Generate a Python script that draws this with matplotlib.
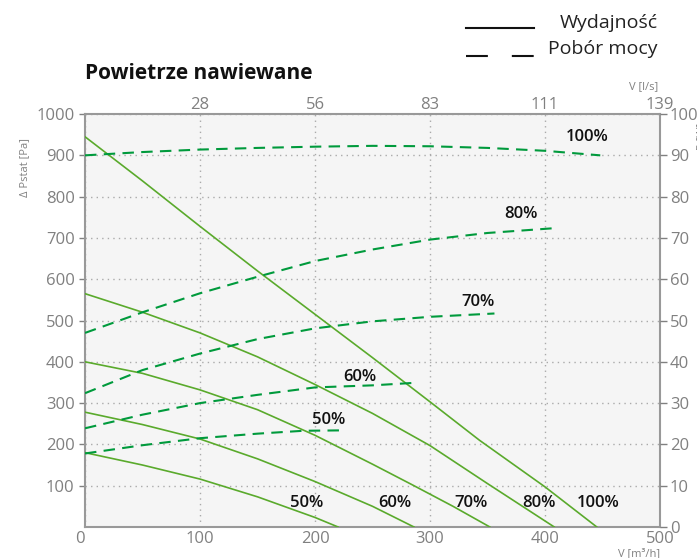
import matplotlib
matplotlib.use('Agg')
import matplotlib.pyplot as plt
from matplotlib.lines import Line2D

plt.rcParams['font.family'] = ['Open Sans', 'DejaVu Sans']

# airflow [m3/h] vs static pressure [Pa] (Wydajnosc)
flow_100 = [0, 50, 100, 150, 200, 250, 300, 343, 400, 445]
pres_100 = [945, 838, 728, 620, 515, 410, 303, 210, 97, 0]
flow_80 = [0, 50, 100, 150, 200, 250, 300, 350, 408]
pres_80 = [565, 520, 470, 412, 345, 275, 197, 105, 0]
flow_70 = [0, 50, 100, 150, 200, 250, 286, 320, 352]
pres_70 = [400, 372, 332, 284, 222, 152, 100, 50, 0]
flow_60 = [0, 50, 100, 150, 200, 250, 286]
pres_60 = [278, 248, 213, 165, 110, 50, 0]
flow_50 = [0, 50, 100, 150, 200, 220]
pres_50 = [180, 150, 116, 73, 23, 0]

# airflow [m3/h] vs power [W] (Pobor mocy)
pflow_100 = [0, 50, 100, 150, 200, 250, 300, 350, 400, 448]
power_100 = [90.0, 90.8, 91.4, 91.8, 92.1, 92.3, 92.2, 91.8, 91.1, 90.0]
pflow_80 = [0, 50, 100, 150, 200, 250, 300, 350, 410]
power_80 = [47.0, 52.0, 56.6, 60.6, 64.4, 67.2, 69.6, 71.2, 72.4]
pflow_70 = [0, 50, 100, 150, 200, 250, 300, 356]
power_70 = [32.4, 38.0, 42.0, 45.5, 48.1, 49.8, 50.9, 51.7]
pflow_60 = [0, 50, 100, 150, 200, 250, 286]
power_60 = [23.9, 27.2, 30.0, 32.0, 33.8, 34.3, 34.9]
pflow_50 = [0, 50, 100, 150, 190, 225]
power_50 = [17.8, 19.8, 21.5, 22.6, 23.3, 23.4]

x_ticks = [0, 100, 200, 300, 400, 500]
y_ticks = [100, 200, 300, 400, 500, 600, 700, 800, 900, 1000]
top_labels = ['28', '56', '83', '111', '139']
right_ticks = [0, 10, 20, 30, 40, 50, 60, 70, 80, 90, 100]

curve_labels = ['50%', '60%', '70%', '80%', '100%']
bottom_lab_x = [193, 269, 336, 395, 446]
power_lab_x = [212, 239, 342, 379, 437]
power_lab_y = [25.9, 36.4, 54.6, 75.7, 94.4]

solid_c = '#5aaa2c'
dash_c = '#009a3c'
grey = '#808080'

fig = plt.figure(figsize=(6.97, 5.58), dpi=100)
ax = fig.add_axes([0.122, 0.0556, 0.825, 0.740])
ax.set_facecolor('#f5f5f5')

for fx, py in [(flow_100, pres_100), (flow_80, pres_80), (flow_70, pres_70),
               (flow_60, pres_60), (flow_50, pres_50)]:
    ax.plot(fx, py, color=solid_c, lw=1.2, zorder=3)

ax.set_xlim(0, 500)
ax.set_ylim(0, 1000)
ax.set_xticks(x_ticks)
ax.set_yticks(y_ticks)
ax.grid(True, color='#aaaaaa', linestyle=(0, (1, 3)), lw=1)
ax.tick_params(colors=grey, labelsize=12, length=4, width=1)
ax.tick_params(axis='x', length=0, pad=3)
ax.get_xticklabels()[0].set_horizontalalignment('right')
for s in ax.spines.values():
    s.set_color('#999999')
    s.set_linewidth(1.5)
ax.set_ylabel('Δ Pstat [Pa]', fontsize=8, color=grey, labelpad=2)
ax.yaxis.set_label_coords(-0.095, 0.87)

axr = ax.twinx()
axr.set_ylim(0, 100)
axr.set_yticks(right_ticks)
axr.tick_params(colors=grey, labelsize=12, length=5, width=1, pad=2)
for s in axr.spines.values():
    s.set_visible(False)
for px, pw in [(pflow_100, power_100), (pflow_80, power_80), (pflow_70, power_70),
               (pflow_60, power_60), (pflow_50, power_50)]:
    axr.plot(px, pw, color=dash_c, lw=1.5, dashes=(5.5, 3.5), zorder=3)

axt = ax.twiny()
axt.set_xlim(0, 500)
axt.set_xticks(x_ticks[1:])
axt.set_xticklabels(top_labels)
axt.tick_params(colors=grey, labelsize=12, length=0, pad=1)
for s in axt.spines.values():
    s.set_visible(False)

for lab, xx in zip(curve_labels, bottom_lab_x):
    ax.text(xx, 58, lab, fontsize=12, fontweight='semibold', ha='center',
            va='center', color='#111111', zorder=5)
for lab, xx, yy in zip(curve_labels, power_lab_x, power_lab_y):
    axr.text(xx, yy, lab, fontsize=12, fontweight='semibold', ha='center',
             va='center', color='#111111', zorder=5)

fig.text(0.944, 0.844, 'V [l/s]', fontsize=8, color=grey, ha='right', va='center')
fig.text(0.947, 0.008, 'V [m³/h]', fontsize=8, color=grey, ha='right', va='center')
fig.text(0.999, 0.78, 'P [W]', fontsize=8, color=grey, rotation=90, ha='left', va='top')

fig.text(0.122, 0.868, 'Powietrze nawiewane', fontsize=15, fontweight='bold',
         ha='left', va='center', color='#111111')

# legend
fig.add_artist(Line2D([0.6686, 0.7661], [0.950, 0.950], color='#111111', lw=1.5))
fig.add_artist(Line2D([0.6686, 0.7661], [0.900, 0.900], color='#111111', lw=1.5,
                      dashes=(10.5, 11.5)))
fig.text(0.944, 0.959, 'Wydajność', fontsize=14, ha='right', va='center', color='#222222')
fig.text(0.944, 0.912, 'Pobór mocy', fontsize=14, ha='right', va='center', color='#222222')

fig.savefig('out.png', dpi=100)
